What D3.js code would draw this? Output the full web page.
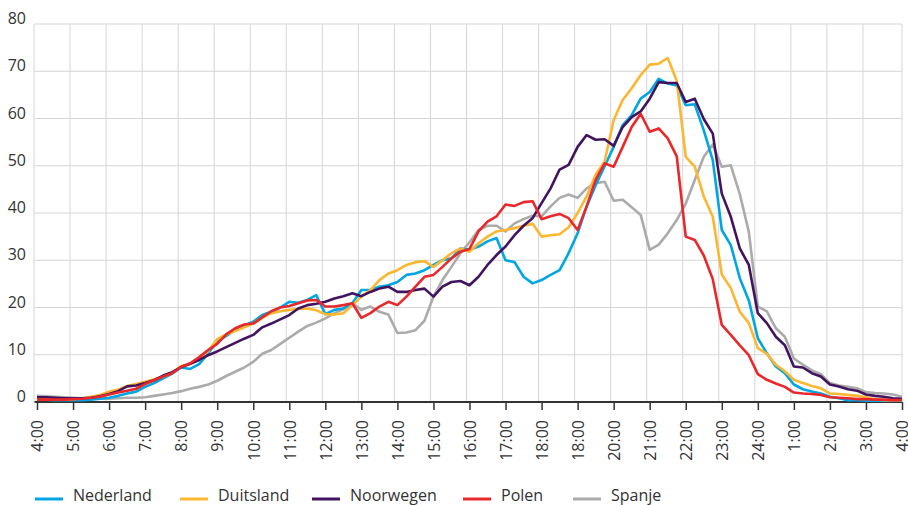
<!DOCTYPE html>
<html>
<head>
<meta charset="utf-8">
<script src="https://cdn.jsdelivr.net/npm/d3@7"></script>
<style>
  html, body { margin: 0; padding: 0; background: #fff; }
  svg { display: block; font-family: "Open Sans", "Noto Sans", sans-serif; }
</style>
</head>
<body>
<svg id="chart" width="908" height="505"></svg>
<script>
// ---- data (15-minute steps from 4:00 to 4:00 next day) ----
const startHour = 4;
const stepsPerHour = 4;
const tickLabels = ["4:00","5:00","6:00","7:00","8:00","9:00","10:00","11:00","12:00","13:00","14:00","15:00","16:00","17:00","18:00","18:00","20:00","21:00","22:00","23:00","24:00","1:00","2:00","3:00","4:00"];
const yTicks = [0,10,20,30,40,50,60,70,80];

const seriesNames = ["Nederland","Duitsland","Noorwegen","Polen","Spanje"];
const seriesColors = ["#00A6E4","#FDB630","#42145F","#E8282B","#ABABAB"];

const nederland = [
  0.5,0.5,0.4,0.4, 0.4,0.4,0.5,0.7, 0.9,1.3,1.8,2.2, 3.2,4.0,5.0,6.0,
  7.3,7.0,8.0,10.3, 12.8,14.0,15.2,16.2, 17.0,18.4,19.1,20.0, 21.2,21.0,21.6,22.6,
  18.6,19.5,19.8,20.9, 23.7,23.7,24.4,24.7, 25.4,26.9,27.2,27.9, 29.0,30.0,30.4,32.5,
  32.2,32.9,34.0,34.7, 30.0,29.6,26.5,25.1, 25.8,26.9,27.9,31.5, 35.7,41.4,45.9,49.9,
  54.0,58.6,60.7,64.2, 65.6,68.4,67.4,67.0, 62.8,63.0,57.5,51.2, 36.4,33.2,26.2,21.5,
  13.5,10.3,7.5,6.1, 3.7,2.7,2.2,1.8, 1.1,0.8,0.4,0.4, 0.3,0.3,0.3,0.3, 0.3
];
const duitsland = [
  0.5,0.5,0.5,0.5, 0.6,0.8,1.1,1.5, 2.2,2.6,3.4,3.8, 4.3,4.8,5.4,6.2,
  7.6,8.0,9.2,10.8, 13.3,14.3,15.0,15.8, 16.6,17.8,18.8,19.2, 19.5,19.7,19.8,19.4,
  18.6,18.5,18.8,20.5, 22.3,23.7,25.8,27.2, 27.9,29.0,29.6,29.8, 28.6,30.0,31.5,32.5,
  31.8,33.6,35.0,36.1, 36.4,36.8,37.3,37.7, 35.0,35.3,35.5,37.0, 40.0,43.5,48.1,50.9,
  59.7,63.9,66.4,69.2, 71.4,71.6,72.8,68.0, 51.9,49.8,43.5,39.2, 27.0,24.1,19.1,16.7,
  11.4,10.2,7.9,6.5, 4.7,4.0,3.4,2.9, 1.8,1.7,1.5,1.3, 1.0,0.6,0.4,0.4, 0.4
];
const noorwegen = [
  1.0,1.0,0.9,0.8, 0.8,0.8,0.9,1.2, 1.7,2.3,3.3,3.5, 4.0,4.6,5.6,6.3,
  7.4,8.1,8.9,9.9, 10.7,11.6,12.5,13.4, 14.2,15.8,16.6,17.5, 18.4,19.8,20.5,20.8,
  21.2,21.9,22.4,23.0, 22.4,23.3,24.0,24.4, 23.3,23.3,23.7,24.0, 22.3,24.4,25.4,25.6,
  24.7,26.5,29.0,31.1, 32.9,35.3,37.3,38.9, 42.1,45.2,49.2,50.2, 54.0,56.5,55.5,55.6,
  54.2,58.2,60.3,61.5, 64.2,67.7,67.5,67.5, 63.5,64.2,59.9,56.8, 44.1,39.2,32.5,29.0,
  18.8,16.7,13.8,12.0, 7.5,7.3,6.1,5.4, 3.7,3.3,2.7,2.4, 1.6,1.3,1.1,0.8, 0.7
];
const polen = [
  0.5,0.5,0.5,0.5, 0.6,0.7,0.9,1.1, 1.6,2.0,2.4,2.8, 3.8,4.6,5.4,6.1,
  7.4,8.2,9.5,11.0, 12.3,14.3,15.6,16.4, 16.6,17.9,19.2,20.0, 20.3,20.9,21.5,21.6,
  20.2,20.2,20.5,20.9, 17.8,18.8,20.2,21.2, 20.5,22.3,24.4,26.5, 26.9,28.6,30.4,31.8,
  32.4,36.1,38.2,39.3, 41.8,41.5,42.3,42.5, 38.7,39.3,39.8,38.9, 36.4,41.4,47.0,50.5,
  49.8,54.0,58.2,61.0, 57.2,57.9,55.8,52.0, 35.0,34.3,31.0,26.0, 16.3,14.2,12.0,9.9,
  5.9,4.7,3.9,3.2, 2.0,1.8,1.7,1.5, 1.0,0.9,0.8,0.6, 0.6,0.5,0.5,0.4, 0.4
];
const spanje = [
  1.3,1.2,1.1,1.0, 0.9,0.8,0.7,0.7, 0.7,0.8,0.9,0.9, 1.0,1.3,1.6,1.9,
  2.3,2.8,3.2,3.7, 4.5,5.5,6.4,7.3, 8.5,10.2,11.0,12.3, 13.6,14.9,16.1,16.8,
  17.7,18.8,19.6,20.9, 19.5,20.2,19.1,18.5, 14.6,14.7,15.2,17.2, 22.3,25.8,28.6,31.5,
  33.8,36.4,37.3,37.3, 36.1,37.8,38.7,39.4, 39.3,41.4,43.2,43.9, 43.2,45.2,46.3,46.6,
  42.6,42.8,41.2,39.6, 32.2,33.3,35.7,38.5, 42.0,47.0,51.9,54.5, 49.8,50.1,44.0,36.0,
  20.2,19.2,15.6,13.8, 9.2,7.9,6.7,5.9, 4.0,3.5,3.2,2.9, 2.1,1.9,1.8,1.6, 1.1
];
const seriesValues = [nederland, duitsland, noorwegen, polen, spanje];

// ---- layout ----
const svg = d3.select("#chart");
const plotLeft = 34.5, plotRight = 902, plotTop = 24, plotBottom = 402;
const x = d3.scaleLinear().domain([startHour, startHour + 24]).range([37, 902]);
const y = d3.scaleLinear().domain([0, 80]).range([plotBottom, plotTop]);
const gridColor = "#d6d6d6";
const textColor = "#333";

// horizontal gridlines
svg.append("g").selectAll("line").data(yTicks.filter(d => d > 0)).join("line")
  .attr("x1", plotLeft).attr("x2", plotRight)
  .attr("y1", d => y(d)).attr("y2", d => y(d))
  .attr("stroke", gridColor).attr("stroke-width", 1);

// vertical gridlines
const hours = d3.range(tickLabels.length).map(i => startHour + i);
svg.append("g").selectAll("line").data(hours).join("line")
  .attr("x1", (d, i) => i === hours.length - 1 ? plotRight : x(d) - 3)
  .attr("x2", (d, i) => i === hours.length - 1 ? plotRight : x(d) - 3)
  .attr("y1", plotTop).attr("y2", plotBottom)
  .attr("stroke", gridColor).attr("stroke-width", 1);

// y labels
svg.append("g").selectAll("text").data(yTicks).join("text")
  .attr("x", 26).attr("y", d => y(d))
  .attr("text-anchor", "end")
  .attr("font-size", 16).attr("fill", textColor)
  .text(d => d);

// x axis
const xAxis = d3.axisBottom(x)
  .tickValues(hours)
  .tickSize(8)
  .tickFormat((d, i) => tickLabels[i]);
const gx = svg.append("g").attr("transform", `translate(0,${plotBottom})`).call(xAxis);
gx.select(".domain").attr("stroke", textColor).attr("stroke-width", 2)
  .attr("d", `M${plotLeft},0H${plotRight}`);
gx.selectAll(".tick line").attr("stroke", textColor).attr("stroke-width", 1.5);
gx.selectAll(".tick text")
  .attr("font-family", "'Open Sans', 'Noto Sans', sans-serif")
  .attr("font-size", 16).attr("fill", textColor)
  .attr("text-anchor", "end")
  .attr("transform", "translate(0,18) rotate(-90)")
  .attr("x", 0).attr("y", 0).attr("dy", "0.36em");

// lines
const line = d3.line()
  .x((d, i) => x(startHour + i / stepsPerHour))
  .y(d => y(d));
svg.append("g").selectAll("path").data(seriesValues.map((v, i) => ({v, i}))).join("path")
  .attr("d", d => line(d.v))
  .attr("fill", "none")
  .attr("stroke", d => seriesColors[d.i])
  .attr("stroke-width", 2.6)
  .attr("stroke-linejoin", "round");

// Redraw order: grey first visually? keep data order but put Spanje under others
svg.selectAll("path").filter(d => d && d.i === 4).lower();

// legend
const legendX = [35, 180, 312, 463, 573];
const lg = svg.append("g");
seriesNames.forEach((name, i) => {
  lg.append("line")
    .attr("x1", legendX[i]).attr("x2", legendX[i] + 28)
    .attr("y1", 499).attr("y2", 499)
    .attr("stroke", seriesColors[i]).attr("stroke-width", 3);
  lg.append("text")
    .attr("x", legendX[i] + 38).attr("y", 501)
    .attr("font-size", 16).attr("fill", textColor)
    .text(name);
});
</script>
</body>
</html>
